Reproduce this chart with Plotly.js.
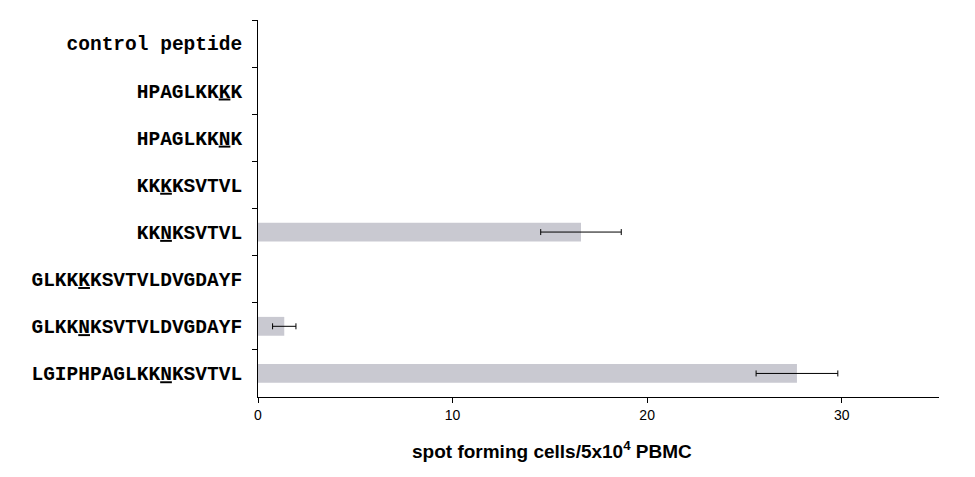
<!DOCTYPE html>
<html>
<head>
<meta charset="utf-8">
<script src="https://cdn.plot.ly/plotly-3.0.1.min.js"></script>
<style>html,body{margin:0;padding:0;background:#fff;}#chart{width:975px;height:477px;}</style>
</head>
<body>
<div id="chart"></div>
<script>
// Peptides, top to bottom (underlined residue marked with <u>)
const peptides = [
  "control peptide",
  "HPAGLKK<u>K</u>K",
  "HPAGLKK<u>N</u>K",
  "KK<u>K</u>KSVTVL",
  "KK<u>N</u>KSVTVL",
  "GLKK<u>K</u>KSVTVLDVGDAYF",
  "GLKK<u>N</u>KSVTVLDVGDAYF",
  "LGIPHPAGLKK<u>N</u>KSVTVL"
];
const spotCells = [0, 0, 0, 0, 16.6, 0, 1.35, 27.7];
const spotErr = [0, 0, 0, 0, 2.07, 0, 0.6, 2.1];
const xTicks = [0, 10, 20, 30];
const xTitle = "<b>spot forming cells/5x10<sup>4</sup> PBMC</b>";

// zero responses draw no bar and no error bar
const shownX = spotCells.map(v => v === 0 ? null : v);
const shownErr = spotErr.map((e, i) => spotCells[i] === 0 ? null : e);

const trace = {
  type: "bar",
  orientation: "h",
  y: peptides,
  x: shownX,
  width: 0.4,
  marker: {color: "#c9c9d1", line: {width: 0}},
  error_x: {type: "data", array: shownErr, visible: true, color: "#000", thickness: 1, width: 3},
  hoverinfo: "none"
};

const layout = {
  width: 975, height: 477,
  margin: {l: 258, r: 36, t: 20, b: 80},
  paper_bgcolor: "#fff", plot_bgcolor: "#fff",
  showlegend: false,
  xaxis: {
    range: [0, 35],
    tickvals: xTicks,
    ticktext: xTicks.map(String),
    ticks: "outside", ticklen: 5, tickcolor: "#000",
    showline: true, linecolor: "#000", linewidth: 1,
    showgrid: false, zeroline: false,
    tickfont: {family: "Arial, Liberation Sans, sans-serif", size: 14, color: "#000"}
  },
  yaxis: {
    type: "category",
    autorange: "reversed",
    tickson: "boundaries",
    ticks: "outside", ticklen: 5, tickcolor: "#000",
    showline: true, linecolor: "#000", linewidth: 1,
    showgrid: false, zeroline: false,
    ticklabelstandoff: 11,
    tickfont: {family: "Liberation Mono, Courier New, monospace", size: 19.5, color: "#000", weight: "bold"}
  },
  annotations: [{
    text: xTitle, xref: "paper", yref: "paper",
    x: (552 - 258) / 681, y: -(450 - 397) / 377,
    xanchor: "center", yanchor: "middle", showarrow: false,
    font: {family: "Arial, Liberation Sans, sans-serif", size: 19, color: "#000"}
  }]
};

Plotly.newPlot("chart", [trace], layout, {displayModeBar: false, staticPlot: true});
</script>
</body>
</html>
